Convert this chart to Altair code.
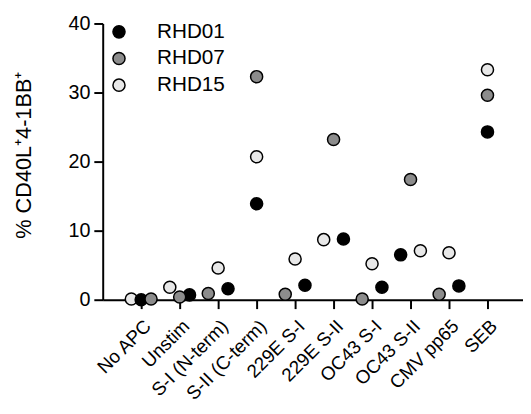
import json
import altair as alt
import pandas as pd

categories = ["No APC", "Unstim", "S-I (N-term)", "S-II (C-term)", "229E S-I",
              "229E S-II", "OC43 S-I", "OC43 S-II", "CMV pp65", "SEB"]
donors = ["RHD01", "RHD07", "RHD15"]
rhd01 = [0.0, 0.7, 1.6, 13.9, 2.1, 8.8, 1.8, 6.5, 2.0, 24.3]
rhd07 = [0.1, 0.4, 0.9, 32.3, 0.8, 23.2, 0.1, 17.4, 0.8, 29.6]
rhd15 = [0.1, 1.8, 4.6, 20.7, 5.9, 8.7, 5.2, 7.1, 6.8, 33.3]
# dodge slot of each point within its column (-1 left, 0 centre, 1 right)
dodge01 = [0, 1, 1, 0, 1, 1, 1, -1, 1, 0]
dodge07 = [1, 0, -1, 0, -1, 0, -1, 0, -1, 0]
dodge15 = [-1, -1, 0, 0, 0, -1, 0, 1, 0, 0]
y_ticks = [0, 10, 20, 30, 40]

rows = []
for donor, vals, dod in [("RHD15", rhd15, dodge15), ("RHD01", rhd01, dodge01), ("RHD07", rhd07, dodge07)]:
    for i, (c, v, d) in enumerate(zip(categories, vals, dod)):
        rows.append({"idx": i, "cond": c, "donor": donor, "value": v, "dodge": d})
df = pd.DataFrame(rows)

step = 39.0
W, H = 426, 280
TICK = 9
DODGE = 10 / step  # spread of side-by-side dots, in category units

label_expr = json.dumps(categories) + "[datum.value]"

chart = alt.Chart(df).transform_calculate(
    xpos=f"datum.idx + datum.dodge * {DODGE}"
).mark_point(
    filled=True, shape="circle", size=150, stroke="black", strokeWidth=1.5, opacity=1
).encode(
    x=alt.X("xpos:Q", title=None,
            scale=alt.Scale(domain=[-1, W / step - 1], nice=False, zero=False),
            axis=alt.Axis(values=list(range(len(categories))), labelExpr=label_expr,
                          domain=True, ticks=True, tickSize=TICK, tickWidth=2,
                          tickColor="#000000", domainColor="#000000", domainWidth=2,
                          grid=False, labelAngle=-45, labelFontSize=19,
                          labelColor="black", labelFont="Liberation Sans",
                          labelAlign="right", labelBaseline="top",
                          labelFlush=False, labelOverlap=False, labelBound=False,
                          labelPadding=8, labelLimit=300)),
    y=alt.Y("value:Q", title="% CD40L⁺4-1BB⁺",
            scale=alt.Scale(domain=[0, 40], nice=False),
            axis=alt.Axis(domain=True, ticks=True, tickSize=TICK, tickWidth=2,
                          tickColor="#000000", domainColor="#000000", domainWidth=2,
                          values=y_ticks, labelFontSize=20,
                          labelColor="black", labelFont="Liberation Sans", labelPadding=4,
                          grid=False, titleFontSize=22, titleFont="Liberation Sans",
                          titleFontWeight="normal", titleColor="black",
                          titleX=-80, titleY=H / 2 - 7, titleBaseline="middle",
                          titleAlign="center", titleAngle=-90)),
    fill=alt.Fill("donor:N", scale=alt.Scale(domain=donors, range=["#000000", "#8c8c8c", "#e8e8e8"]),
                  legend=alt.Legend(title=None, orient="none", legendX=6, legendY=-2,
                                    labelFontSize=21, labelFont="Liberation Sans", labelColor="black",
                                    symbolType="circle", symbolSize=150, symbolStrokeColor="black",
                                    symbolStrokeWidth=1.5, symbolOpacity=1, labelOffset=28,
                                    rowPadding=5)),
).properties(
    width=W, height=H,
    autosize=alt.AutoSizeParams(type="none"),
    padding={"left": 96, "top": 13, "right": 0, "bottom": 103},
).configure_view(strokeWidth=0)

chart.save("out.html", embed_options={"renderer": "svg", "actions": False})
